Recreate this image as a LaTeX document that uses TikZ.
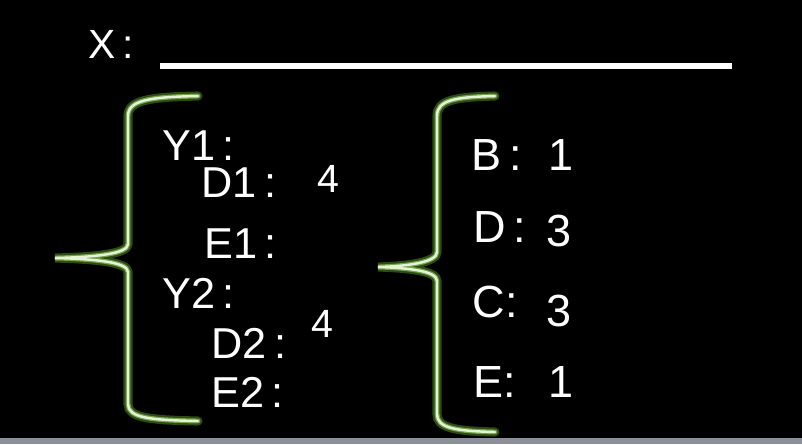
\documentclass[tikz,border=0pt]{standalone}
\usepackage{fontspec}
\setmainfont{Liberation Sans}
\definecolor{glowout}{RGB}{45,75,20}
\definecolor{glowmid}{RGB}{115,160,75}
\definecolor{glowin}{RGB}{228,242,215}
\definecolor{strip}{RGB}{138,143,153}

\begin{document}
\begin{tikzpicture}[x=0.01cm, y=-0.01cm,
  txt/.style={text=white, inner sep=0pt, anchor=base west},
  big/.style={txt, font=\fontsize{12.3}{14}\selectfont},
  num/.style={txt, font=\fontsize{11.2}{13}\selectfont},
  rgt/.style={txt, font=\fontsize{12.8}{15}\selectfont},
  glow/.style={draw=glowmid, line width=1.4pt, line cap=round,
    preaction={draw=glowout, line width=2.6pt, line cap=round},
    postaction={draw=glowin, line width=0.7pt, line cap=round}}]

% background
\fill[black] (0,0) rectangle (802,444);
\fill[strip] (0,438) rectangle (802,444);

% title line
\node[txt, font=\fontsize{11.6}{13}\selectfont] (xlab) at (88,58) {X\,:};
\coordinate (lstart) at (160,66);
\coordinate (lend) at (732,66);
\draw[white, line width=1.7pt] (lstart) -- (lend);

% left brace
\draw[glow] (198,96) .. controls (150,97) and (128,100) .. (128,116)
  -- (128,244) .. controls (128,254) and (95,257) .. (55,258)
  .. controls (95,259) and (128,262) .. (128,272)
  -- (128,404) .. controls (128,418) and (150,420) .. (198,421);

% right brace
\draw[glow] (495,96) .. controls (455,97) and (437,100) .. (437,116)
  -- (437,252) .. controls (437,262) and (410,266) .. (378,267)
  .. controls (410,268) and (437,271) .. (437,281)
  -- (437,414) .. controls (437,428) and (455,431) .. (495,432);

% left entries
\node[big] (yone) at (162,160) {Y1\,:};
\node[big] (done) at (201,197) {D1\,:};
\node[num] (vone) at (317,192) {4};
\node[big] (eone) at (204,258) {E1\,:};
\node[big] (ytwo) at (162,308) {Y2\,:};
\node[num] (vtwo) at (311,337) {4};
\node[big] (dtwo) at (211,358) {D2\,:};
\node[big] (etwo) at (211,407) {E2\,:};

% right entries
\node[rgt] (bl) at (471,170) {B\,:};
\node[rgt] (bv) at (548,170) {1};
\node[rgt] (dl) at (473,242) {D\,:};
\node[rgt] (dv) at (546,246) {3};
\node[rgt] (cl) at (472,317) {C:};
\node[rgt] (cv) at (546,326) {3};
\node[rgt] (el) at (473,397) {E:};
\node[rgt] (ev) at (548,397) {1};

\end{tikzpicture}
\end{document}
